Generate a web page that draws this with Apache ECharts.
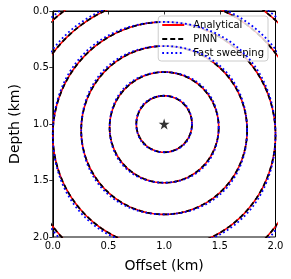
<!DOCTYPE html>
<html>
<head>
<meta charset="utf-8">
<script src="https://cdn.jsdelivr.net/npm/echarts@6/dist/echarts.min.js"></script>
<style>html,body{margin:0;padding:0;background:#fff}#c{width:291px;height:279px}</style>
</head>
<body>
<div id="c"></div>
<script>
// Source location (offset km, depth km)
const source = [1.0, 1.0];
// Travel-time contours: radius (km) and depth of circle centre (km)
const contourRadius = [0.25, 0.49, 0.745, 1.0, 1.26, 1.5];
const contourCenterDepth = [1.0, 1.03, 1.055, 1.097, 1.14, 1.2];
// Fast-sweeping extra radius along the diagonals (km)
const fsDiagError = [0.006, 0.01, 0.014, 0.018, 0.022, 0.026];
const ticks = [0.0, 0.5, 1.0, 1.5, 2.0];
const seriesNames = ['Analytical', 'PINN', 'Fast sweeping'];

function contourLine(extra) {
  const pts = [];
  for (let i = 0; i < contourRadius.length; i++) {
    for (let k = 0; k <= 360; k += 2) {
      const t = k * Math.PI / 180;
      const r = contourRadius[i] + (extra ? extra[i] * Math.pow(Math.sin(2 * t), 2) : 0);
      pts.push([source[0] + r * Math.cos(t), contourCenterDepth[i] + r * Math.sin(t)]);
    }
    pts.push(null);
  }
  return pts;
}

const chart = echarts.init(document.getElementById('c'), null, {renderer: 'canvas'});
const font = 'DejaVu Sans';
const axisCommon = {
  type: 'value', min: 0, max: 2, interval: 0.5,
  axisLine: {show: true, lineStyle: {color: '#000', width: 1}},
  axisTick: {show: true, inside: false, length: 3.5, lineStyle: {color: '#000', width: 0.8}},
  axisLabel: {color: '#000', fontSize: 10, fontFamily: font, margin: 4,
    formatter: v => ticks.includes(v) ? v.toFixed(1) : ''},
  splitLine: {show: false},
  nameLocation: 'middle',
  nameTextStyle: {color: '#000', fontSize: 14, fontFamily: font}
};
const star = 'path://M0,-1 L0.2245,-0.309 L0.951,-0.309 L0.363,0.118 L0.588,0.809 L0,0.382 L-0.588,0.809 L-0.363,0.118 L-0.951,-0.309 L-0.2245,-0.309 Z';
chart.setOption({
  animation: false,
  grid: {left: 48.5, right: 15.5, top: 11, bottom: 42, show: true, borderColor: '#000', borderWidth: 1, backgroundColor: 'transparent'},
  xAxis: Object.assign({}, axisCommon, {name: 'Offset (km)', nameGap: 22}),
  yAxis: Object.assign({}, axisCommon, {name: 'Depth (km)', nameGap: 28, inverse: true}),
  legend: {
    data: seriesNames, orient: 'vertical', right: 23, top: 16,
    backgroundColor: 'rgba(255,255,255,0.8)', borderColor: '#cccccc', borderWidth: 1, borderRadius: 3,
    padding: [4, 4, 3, 3], itemGap: 4, itemWidth: 22, itemHeight: 11,
    itemStyle: {opacity: 0},
    lineStyle: {width: 2},
    textStyle: {color: '#000', fontSize: 10, fontFamily: font, padding: [0, 0, 0, 4]}
  },
  series: [
    {name: seriesNames[0], type: 'line', data: contourLine(null), symbol: 'none', connectNulls: false,
      lineStyle: {color: '#ff0000', width: 1.6, type: 'solid'}, itemStyle: {color: '#ff0000'}, clip: true, z: 2},
    {name: seriesNames[1], type: 'line', data: contourLine(null), symbol: 'none', connectNulls: false,
      lineStyle: {color: '#000000', width: 1.8, type: [5, 3]}, itemStyle: {color: '#000000'}, clip: true, z: 3},
    {name: seriesNames[2], type: 'line', data: contourLine(fsDiagError), symbol: 'none', connectNulls: false,
      lineStyle: {color: '#0000ff', width: 1.8, type: [1.8, 2.6]}, itemStyle: {color: '#0000ff'}, clip: true, z: 4},
    {type: 'scatter', data: [source], symbol: star, symbolSize: 11, itemStyle: {color: '#000'}, z: 5}
  ]
});
</script>
</body>
</html>
